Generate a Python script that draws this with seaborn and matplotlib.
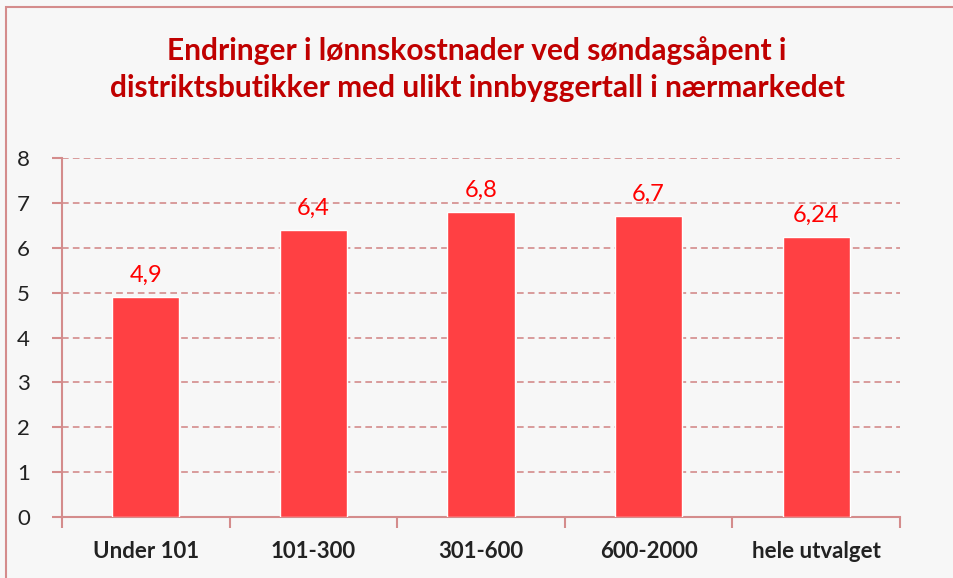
import matplotlib
matplotlib.use("Agg")
import matplotlib.pyplot as plt
import seaborn as sns
import pandas as pd
from matplotlib.patches import Rectangle

categories = ["Under 101", "101-300", "301-600", "600-2000", "hele utvalget"]
values = [4.9, 6.4, 6.8, 6.7, 6.24]
value_labels = ["4,9", "6,4", "6,8", "6,7", "6,24"]
yticks = [0, 1, 2, 3, 4, 5, 6, 7, 8]
title = "Endringer i lønnskostnader ved søndagsåpent i\ndistriktsbutikker med ulikt innbyggertall i nærmarkedet"

sns.set_theme(style="white")
plt.rcParams['font.family'] = ['Lato', 'DejaVu Sans']

bg = "#f7f7f7"
axis_col = "#d48c8c"
bar_col = "#ff4043"

df = pd.DataFrame({"cat": categories, "val": values})

fig = plt.figure(figsize=(9.54, 5.78), dpi=100, facecolor=bg)
fig.patches.append(Rectangle((6/954, -0.1), 1.2, (578-7)/578 + 0.1, transform=fig.transFigure,
                             fill=False, edgecolor=axis_col, linewidth=1.5, zorder=0))
ax = fig.add_axes([62/954, (578-517)/578, (900-62)/954, (517-158)/578])
ax.set_facecolor(bg)

sns.barplot(data=df, x="cat", y="val", color=bar_col, saturation=1, width=0.4, ax=ax, zorder=3)

ax.set_ylim(0, 8)
ax.set_xlim(-0.5, len(categories) - 0.5)
ax.set_yticks(yticks)
ax.set_yticklabels([str(t) for t in yticks], fontsize=16, color="#222222")
ax.set_xlabel("")
ax.set_ylabel("")

for y in yticks[1:]:
    ax.axhline(y, color=axis_col, linestyle=(0, (4, 2.5)), linewidth=1.2, zorder=1)

# x tick marks at category boundaries
ax.set_xticks([i - 0.5 for i in range(len(categories) + 1)], minor=False)
ax.set_xticklabels([])
ax.tick_params(axis="x", which="major", length=8, width=1.5, color=axis_col, direction="out", bottom=True)
ax.set_xticks(range(len(categories)), minor=True)
ax.set_xticklabels(categories, minor=True, fontsize=16, fontweight="bold", color="#222222")
ax.tick_params(axis="x", which="minor", length=0, pad=17)
ax.tick_params(axis="y", length=7, width=1.5, color=axis_col, direction="out", left=True, pad=16)

for side in ["top", "right"]:
    ax.spines[side].set_visible(False)
for side in ["left", "bottom"]:
    ax.spines[side].set_color(axis_col)
    ax.spines[side].set_linewidth(1.5)

for i, (v, lab) in enumerate(zip(values, value_labels)):
    ax.text(i, v + 0.25, lab, ha="center", va="bottom", color="#ff0000", fontsize=17)

fig.text(0.5, (578-69)/578, title, ha="center", va="center", fontsize=21.5, fontweight="bold",
         color="#c00000", linespacing=1.4)

fig.savefig("out.png", dpi=100, facecolor=bg)
